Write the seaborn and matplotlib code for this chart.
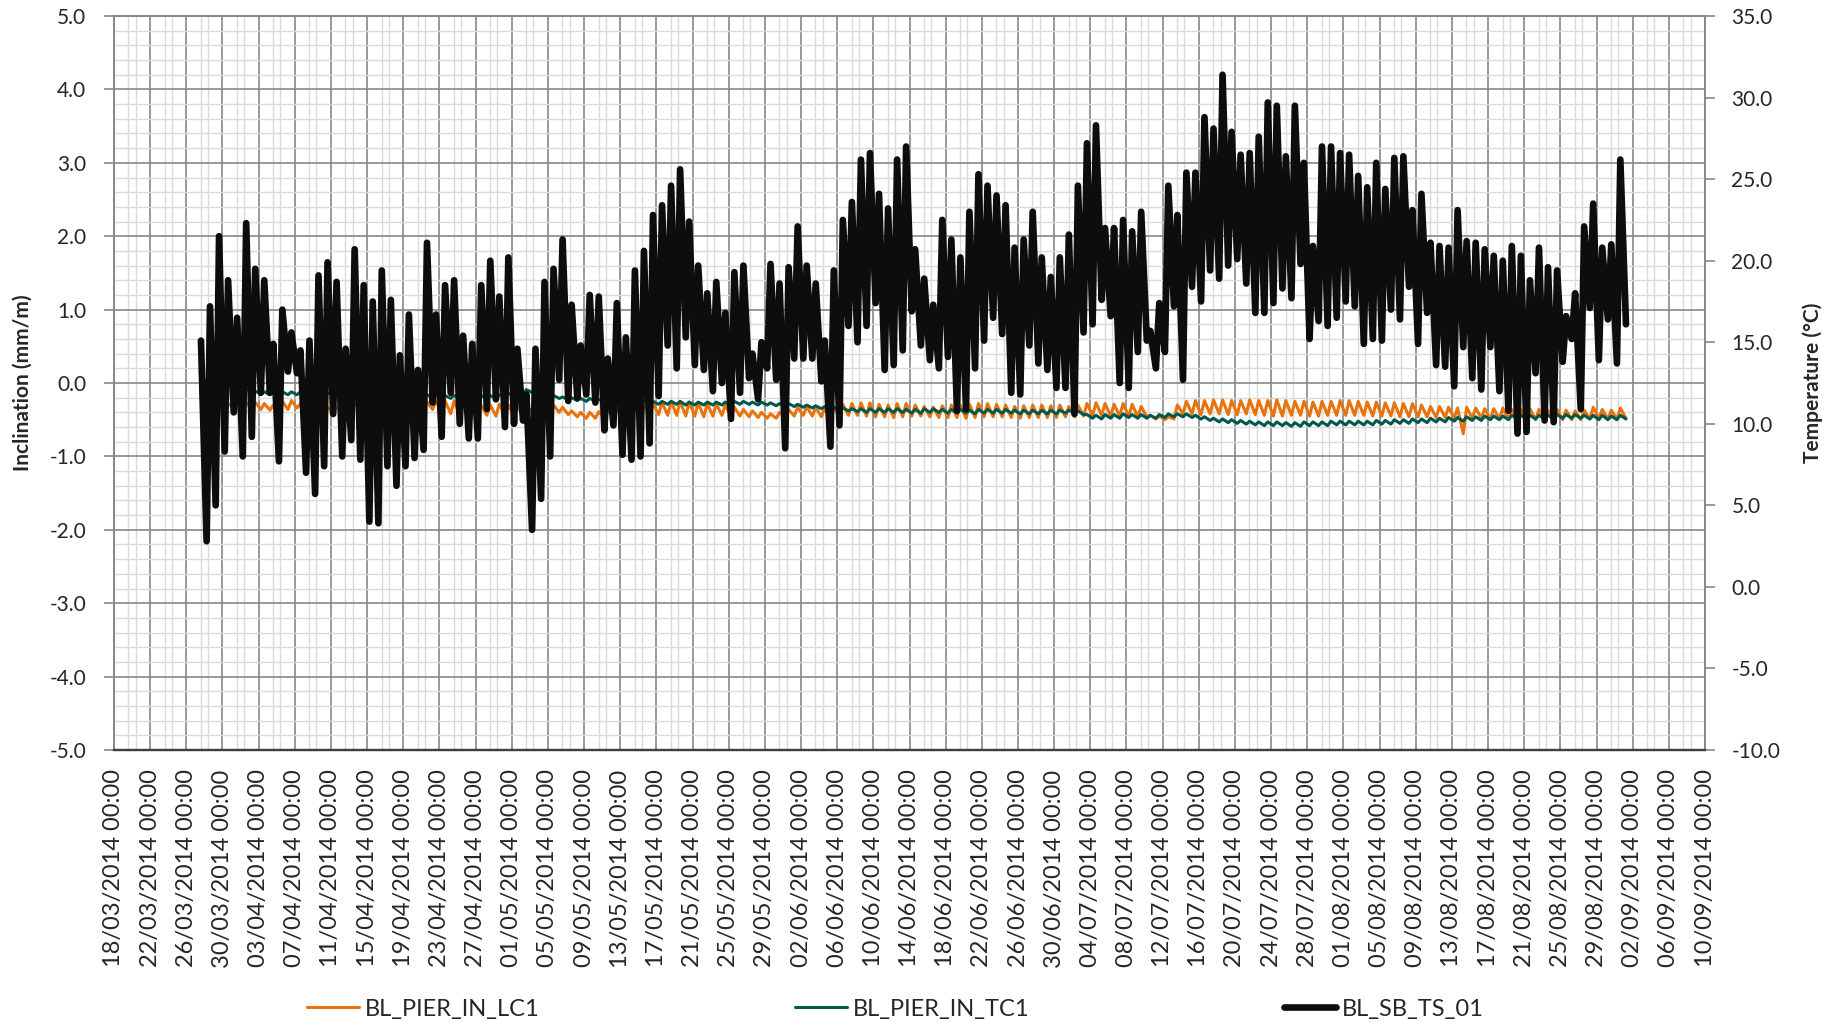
import numpy as np
import pandas as pd
import matplotlib
matplotlib.use("Agg")
import matplotlib.pyplot as plt
import matplotlib.dates as mdates
from matplotlib.ticker import MultipleLocator, FormatStrFormatter, FixedLocator
import seaborn as sns

# ===== daily values, 27/03/2014 - 31/08/2014 (one max + one min per day) =====
first_day = "2014-03-27"
last_day = "2014-08-31"

# BL_SB_TS_01 temperature (degC)
temp_max = [
    15.1, 17.2, 21.5, 18.8, 16.5,
    22.3, 19.5, 18.8, 14.9, 17.0, 15.6, 14.5, 15.1, 19.1, 19.9, 18.7, 14.6, 20.7, 18.5, 17.5,
    19.4, 17.6, 14.2, 16.7, 13.3, 21.1, 16.7, 18.5, 18.8, 15.4, 14.9, 18.5, 20.0, 17.8, 20.2,
    14.6, 11.8, 14.6, 18.7, 19.5, 21.3, 17.3, 14.8, 17.9, 17.8, 14.0, 17.4, 15.3, 19.4, 20.6,
    22.8, 23.4, 24.6, 25.6, 22.4, 19.7, 18.0, 18.7, 16.8, 19.3, 19.7, 14.3, 15.0, 19.8, 18.6, 19.6,
    22.1, 19.7, 18.6, 15.1, 19.4, 22.5, 23.6, 26.2, 26.6, 24.1, 23.2, 26.2, 27.0, 20.7, 18.9,
    17.3, 22.5, 21.3, 20.2, 23.0, 25.3, 24.6, 24.0, 23.4, 20.8, 21.3, 23.0, 20.2, 19.0, 20.2,
    21.6, 24.6, 27.2, 28.3, 22.0, 22.0, 22.5, 21.8, 23.0, 15.7, 17.4, 24.6, 22.8, 25.4, 25.4,
    28.8, 28.1, 31.4, 27.9, 26.5, 26.6, 27.6, 29.7, 29.5, 26.4, 29.5, 26.0, 20.9, 27.0, 27.0, 26.6,
    26.5, 25.2, 24.5, 26.0, 24.4, 26.3, 26.4, 23.1, 24.1, 21.1, 20.9, 20.8, 23.1, 21.2, 21.1,
    20.7, 20.3, 20.0, 20.9, 20.3, 18.8, 20.8, 19.6, 19.4, 16.6, 18.0, 22.1, 23.5, 20.8, 21.0, 26.2,
]
temp_min = [
    2.8, 5.0, 8.3, 10.7, 8.0,
    9.2, 11.9, 11.9, 7.7, 13.2, 13.1, 7.0, 5.7, 7.4, 10.6, 8.0, 9.0, 7.8, 4.0, 3.9,
    7.4, 6.2, 7.4, 7.9, 8.4, 11.3, 9.2, 11.9, 10.0, 9.1, 9.1, 10.9, 11.5, 9.8, 10.0,
    10.2, 3.5, 5.4, 8.0, 12.7, 11.4, 11.6, 11.8, 11.3, 9.6, 9.9, 8.1, 7.8, 8.0, 8.8,
    11.7, 14.8, 13.4, 15.3, 13.6, 13.3, 12.0, 12.5, 10.3, 11.9, 12.8, 11.5, 13.4, 12.7, 8.5, 14.0,
    14.0, 14.0, 12.6, 8.6, 9.9, 16.0, 15.0, 16.0, 17.4, 13.3, 13.6, 14.5, 16.9, 14.8, 13.9,
    13.4, 14.1, 10.8, 10.9, 13.4, 15.1, 16.5, 15.5, 11.9, 11.8, 14.8, 13.7, 13.3, 12.2, 12.2,
    10.6, 15.6, 16.1, 17.6, 16.6, 12.5, 12.2, 14.4, 15.1, 13.4, 14.4, 17.2, 12.7, 18.4, 17.5,
    19.4, 18.9, 19.7, 20.1, 18.6, 16.8, 16.8, 17.4, 18.3, 17.7, 19.8, 15.2, 16.3, 16.0, 16.5, 17.5,
    17.2, 14.9, 15.2, 15.1, 17.0, 16.4, 18.4, 14.9, 16.8, 13.6, 13.5, 12.3, 14.7, 12.8, 12.1,
    14.7, 12.0, 10.8, 9.4, 9.5, 13.1, 10.2, 10.1, 13.8, 15.2, 10.9, 17.1, 13.9, 16.4, 13.7, 16.1,
]

# BL_PIER_IN_LC1 inclination (mm/m)
lc1_max = [
    -0.20, -0.25, -0.26, -0.28, -0.28,
    -0.27, -0.26, -0.28, -0.30, -0.25, -0.24, -0.28, -0.30, -0.30, -0.33,
    -0.33, -0.30, -0.28, -0.26, -0.27, -0.28, -0.30, -0.30, -0.28, -0.27,
    -0.26, -0.25, -0.24, -0.24, -0.26, -0.28, -0.30, -0.30, -0.29, -0.30,
    -0.32, -0.30, -0.28, -0.28, -0.30, -0.33, -0.38, -0.40, -0.40, -0.39,
    -0.38, -0.36, -0.35, -0.33, -0.30, -0.28, -0.26, -0.25, -0.25, -0.26,
    -0.27, -0.28, -0.28, -0.30, -0.33, -0.36, -0.38, -0.40, -0.42, -0.40, -0.36,
    -0.33, -0.32, -0.33, -0.34, -0.32, -0.29, -0.28, -0.27, -0.27, -0.29,
    -0.30, -0.28, -0.28, -0.30, -0.32, -0.33, -0.31, -0.30, -0.30, -0.29,
    -0.28, -0.28, -0.29, -0.30, -0.32, -0.31, -0.30, -0.30, -0.31, -0.30,
    -0.32, -0.30, -0.28, -0.27, -0.28, -0.29, -0.28, -0.29, -0.32, -0.44,
    -0.45, -0.46, -0.30, -0.25, -0.24, -0.24, -0.23, -0.23, -0.24, -0.24,
    -0.23, -0.24, -0.24, -0.23, -0.24, -0.25, -0.25, -0.26, -0.25, -0.25, -0.24,
    -0.24, -0.25, -0.26, -0.26, -0.27, -0.27, -0.28, -0.28, -0.30, -0.32,
    -0.32, -0.33, -0.34, -0.33, -0.34, -0.35, -0.35, -0.34, -0.36, -0.36,
    -0.35, -0.36, -0.37, -0.36, -0.37, -0.38, -0.37, -0.33, -0.36, -0.37, -0.34,
]
lc1_min = [
    -0.25, -0.30, -0.32, -0.34, -0.33,
    -0.35, -0.36, -0.37, -0.39, -0.36, -0.34, -0.37, -0.38, -0.40, -0.41,
    -0.40, -0.38, -0.36, -0.35, -0.35, -0.36, -0.38, -0.38, -0.36, -0.35,
    -0.36, -0.38, -0.42, -0.44, -0.43, -0.42, -0.44, -0.45, -0.44, -0.44,
    -0.43, -0.40, -0.38, -0.38, -0.40, -0.43, -0.46, -0.48, -0.48, -0.47,
    -0.46, -0.45, -0.44, -0.44, -0.43, -0.43, -0.44, -0.44, -0.45, -0.45,
    -0.46, -0.45, -0.44, -0.45, -0.45, -0.46, -0.47, -0.48, -0.48, -0.47, -0.45,
    -0.44, -0.45, -0.46, -0.47, -0.46, -0.44, -0.44, -0.45, -0.46, -0.46,
    -0.47, -0.46, -0.45, -0.45, -0.46, -0.47, -0.47, -0.47, -0.48, -0.47,
    -0.46, -0.46, -0.46, -0.47, -0.48, -0.47, -0.47, -0.47, -0.47, -0.46,
    -0.46, -0.45, -0.44, -0.44, -0.45, -0.45, -0.45, -0.46, -0.46, -0.49,
    -0.50, -0.49, -0.42, -0.42, -0.43, -0.42, -0.42, -0.43, -0.43, -0.42,
    -0.43, -0.44, -0.45, -0.45, -0.44, -0.44, -0.45, -0.45, -0.44, -0.44, -0.44,
    -0.44, -0.44, -0.45, -0.45, -0.45, -0.46, -0.46, -0.46, -0.46, -0.47,
    -0.47, -0.48, -0.69, -0.48, -0.48, -0.49, -0.49, -0.49, -0.50, -0.50,
    -0.50, -0.49, -0.50, -0.50, -0.50, -0.50, -0.49, -0.48, -0.49, -0.49, -0.48,
]

# BL_PIER_IN_TC1 inclination (mm/m)
tc1_max = [
    0.06, 0.06, 0.05, 0.03, 0.00,
    -0.08, -0.11, -0.12, -0.12, -0.12, -0.12, -0.12, -0.13, -0.13, -0.13,
    -0.13, -0.14, -0.14, -0.14, -0.15, -0.15, -0.15, -0.16, -0.16, -0.16,
    -0.16, -0.16, -0.17, -0.17, -0.17, -0.17, -0.17, -0.17, -0.16, -0.14,
    -0.12, -0.09, -0.08, -0.12, -0.17, -0.19, -0.20, -0.21, -0.21, -0.22,
    -0.22, -0.23, -0.23, -0.24, -0.24, -0.25, -0.25, -0.25, -0.25, -0.26,
    -0.26, -0.26, -0.26, -0.26, -0.25, -0.25, -0.26, -0.26, -0.27, -0.28, -0.28,
    -0.29, -0.30, -0.31, -0.32, -0.33, -0.34, -0.35, -0.35, -0.35, -0.35,
    -0.35, -0.35, -0.36, -0.36, -0.35, -0.35, -0.36, -0.36, -0.36, -0.37,
    -0.36, -0.36, -0.36, -0.36, -0.37, -0.37, -0.37, -0.37, -0.37, -0.37,
    -0.37, -0.38, -0.43, -0.44, -0.43, -0.43, -0.42, -0.43, -0.43, -0.44,
    -0.43, -0.42, -0.42, -0.42, -0.44, -0.46, -0.48, -0.49, -0.50, -0.51,
    -0.52, -0.53, -0.53, -0.53, -0.54, -0.54, -0.53, -0.53, -0.53, -0.52, -0.52,
    -0.52, -0.52, -0.52, -0.51, -0.51, -0.50, -0.50, -0.49, -0.49, -0.48,
    -0.48, -0.47, -0.47, -0.46, -0.46, -0.45, -0.45, -0.45, -0.44, -0.44,
    -0.44, -0.44, -0.44, -0.43, -0.43, -0.43, -0.44, -0.44, -0.44, -0.45, -0.44,
]
tc1_min = [
    0.02, 0.02, 0.01, -0.02, -0.06,
    -0.12, -0.15, -0.16, -0.16, -0.16, -0.16, -0.16, -0.17, -0.17, -0.17,
    -0.17, -0.18, -0.18, -0.18, -0.19, -0.19, -0.19, -0.20, -0.20, -0.20,
    -0.20, -0.20, -0.21, -0.21, -0.21, -0.21, -0.21, -0.21, -0.20, -0.18,
    -0.16, -0.13, -0.12, -0.16, -0.21, -0.23, -0.24, -0.25, -0.25, -0.26,
    -0.26, -0.27, -0.27, -0.28, -0.28, -0.29, -0.29, -0.29, -0.30, -0.30,
    -0.30, -0.30, -0.30, -0.30, -0.29, -0.29, -0.30, -0.30, -0.31, -0.32, -0.32,
    -0.33, -0.34, -0.35, -0.36, -0.37, -0.38, -0.39, -0.40, -0.40, -0.40,
    -0.40, -0.40, -0.41, -0.41, -0.40, -0.40, -0.41, -0.41, -0.41, -0.42,
    -0.41, -0.41, -0.41, -0.41, -0.42, -0.42, -0.42, -0.42, -0.42, -0.41,
    -0.41, -0.43, -0.48, -0.49, -0.48, -0.48, -0.47, -0.48, -0.48, -0.48,
    -0.47, -0.46, -0.46, -0.47, -0.49, -0.51, -0.53, -0.54, -0.55, -0.56,
    -0.57, -0.58, -0.58, -0.58, -0.59, -0.59, -0.58, -0.58, -0.58, -0.57, -0.57,
    -0.57, -0.57, -0.57, -0.56, -0.56, -0.55, -0.55, -0.54, -0.54, -0.53,
    -0.53, -0.52, -0.52, -0.51, -0.51, -0.50, -0.50, -0.50, -0.49, -0.49,
    -0.49, -0.49, -0.49, -0.48, -0.48, -0.48, -0.49, -0.50, -0.50, -0.50, -0.49,
]


# max in the afternoon, min early next morning
def daily_frame(hi, lo):
    days = pd.date_range(first_day, last_day, freq="D")
    assert len(days) == len(hi) == len(lo), (len(days), len(hi), len(lo))
    t = list(days + pd.Timedelta(hours=15)) + list(days + pd.Timedelta(hours=30))
    df = pd.DataFrame({"time": t, "value": list(hi) + list(lo)})
    return df.sort_values("time").reset_index(drop=True)


lc1 = daily_frame(lc1_max, lc1_min)
tc1 = daily_frame(tc1_max, tc1_min)
temp = daily_frame(temp_max, temp_min)

# ===== plot =====
sns.set_style("white")
plt.rcParams["font.family"] = ["Lato", "DejaVu Sans"]
plt.rcParams["axes.unicode_minus"] = False

fig, ax = plt.subplots(figsize=(18.35, 10.27), dpi=100)
fig.subplots_adjust(left=0.0621, right=0.9292, top=0.9844, bottom=0.2697)
ax2 = ax.twinx()

sns.lineplot(data=lc1, x="time", y="value", ax=ax, color="#E8730C", linewidth=2.2,
             label="BL_PIER_IN_LC1", legend=False)
sns.lineplot(data=tc1, x="time", y="value", ax=ax, color="#00584C", linewidth=2.2,
             label="BL_PIER_IN_TC1", legend=False)
sns.lineplot(data=temp, x="time", y="value", ax=ax2, color="#0D0D0D", linewidth=4.8,
             label="BL_SB_TS_01", legend=False)

grid_dark = "#878787"
grid_light = "#DADADA"

# x axis: every 4 days, two light lines inside each 4-day cell
x0, x1 = pd.Timestamp("2014-03-18"), pd.Timestamp("2014-09-10")
ax.set_xlim(x0, x1)
major_days = pd.date_range(x0, x1, freq="4D")
ax.set_xticks(major_days)
minor_pos = np.concatenate([mdates.date2num(major_days[:-1]) + 1.6,
                            mdates.date2num(major_days[:-1]) + 2.4])
ax.xaxis.set_minor_locator(FixedLocator(np.sort(minor_pos)))
ax.xaxis.set_major_formatter(mdates.DateFormatter("%d/%m/%Y %H:%M"))
ax.tick_params(axis="x", labelrotation=90, labelsize=17, pad=7, length=7,
               color=grid_dark, width=1.2)
ax.set_xlabel("")

# left axis
ax.set_ylim(-5, 5)
ax.yaxis.set_major_locator(MultipleLocator(1))
ax.yaxis.set_minor_locator(MultipleLocator(0.2))
ax.yaxis.set_major_formatter(FormatStrFormatter("%.1f"))
ax.tick_params(axis="y", labelsize=15, pad=13, length=7, color=grid_dark, width=1.2)
ax.tick_params(which="minor", length=0)
ax.set_ylabel("Inclination (mm/m)", fontsize=15, fontweight="bold")
ax.yaxis.set_label_coords(-0.051, 0.5)

# right axis
ax2.set_ylim(-10, 35)
ax2.yaxis.set_major_locator(MultipleLocator(5))
ax2.yaxis.set_major_formatter(FormatStrFormatter("%.1f"))
ax2.tick_params(axis="y", labelsize=15, pad=12, length=7, color=grid_dark, width=1.2)
ax2.set_ylabel("Temperature (°C)", fontsize=15, fontweight="bold")
ax2.yaxis.set_label_coords(1.061, 0.5)
ax2.set_xlabel("")

ax.grid(True, which="major", color=grid_dark, linewidth=1.2)
ax.grid(True, which="minor", color=grid_light, linewidth=1.0)
ax.set_axisbelow(True)
ax2.grid(False)

for a in (ax, ax2):
    for side in ("left", "right", "top"):
        a.spines[side].set_color(grid_dark)
        a.spines[side].set_linewidth(1.2)
    a.spines["bottom"].set_color("#404040")
    a.spines["bottom"].set_linewidth(1.6)

handles = ax.get_lines()[:2] + ax2.get_lines()[:1]
labels = ["BL_PIER_IN_LC1", "BL_PIER_IN_TC1", "BL_SB_TS_01"]
fig.legend(handles, labels, loc="center", bbox_to_anchor=(0.488, 0.0175), ncol=3,
           frameon=False, fontsize=17, handlelength=2.2, handletextpad=0.25,
           columnspacing=10.8)

fig.savefig("out.png", dpi=100)
